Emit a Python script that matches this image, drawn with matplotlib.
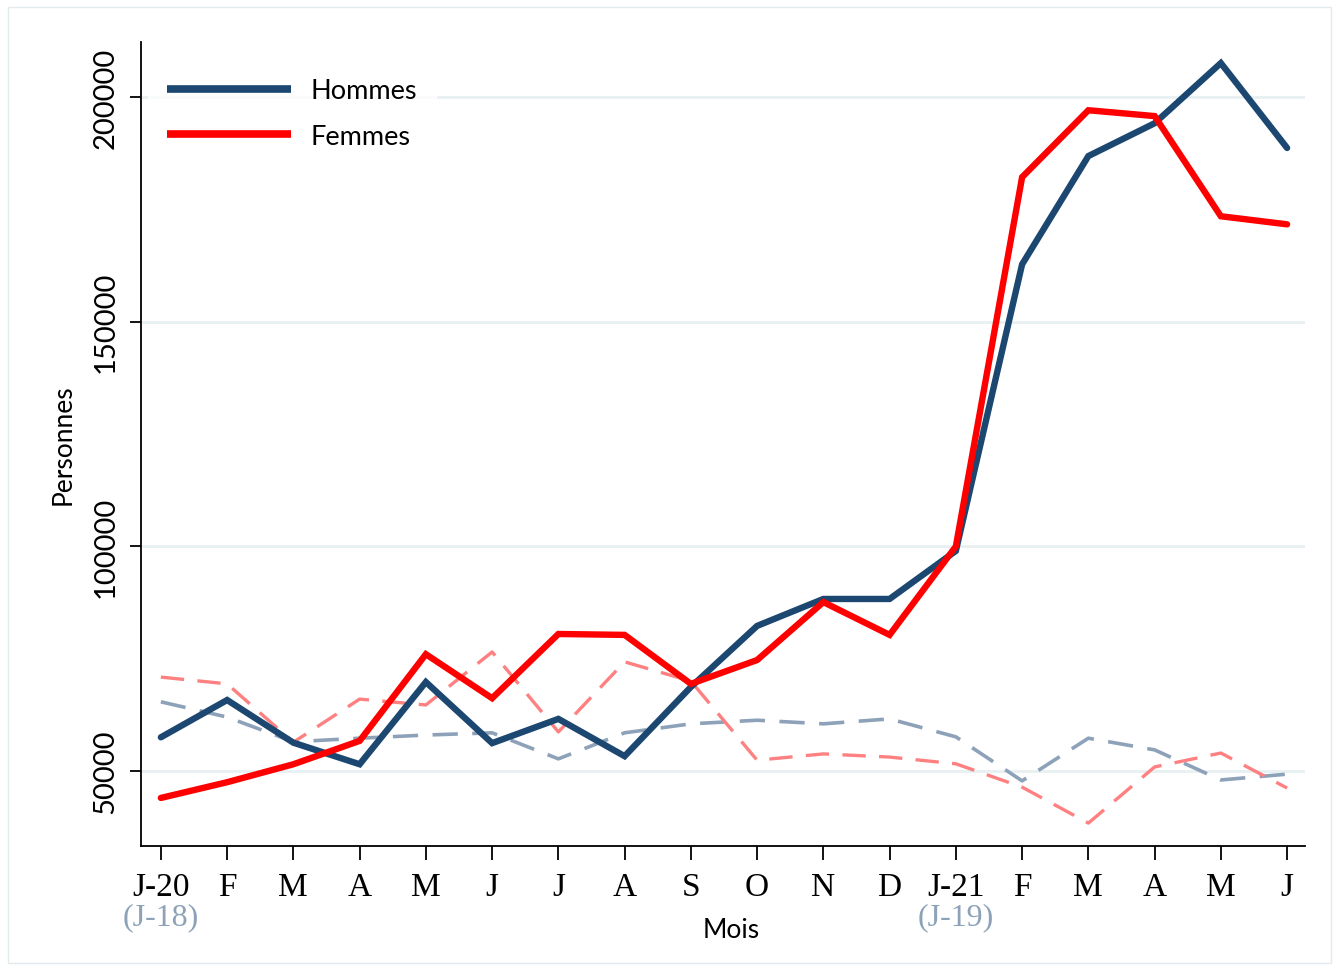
import matplotlib
matplotlib.use("Agg")
import matplotlib.pyplot as plt
from matplotlib.patches import Rectangle

# mois (janv. 2020 -> juin 2021)
mois = ["J-20", "F", "M", "A", "M", "J", "J", "A", "S", "O", "N", "D",
        "J-21", "F", "M", "A", "M", "J"]
rappel = {0: "(J-18)", 12: "(J-19)"}

hommes = [57500, 65800, 56300, 51500, 69800, 56200, 61600, 53300, 68700,
          82300, 88300, 88300, 99000, 162800, 186900, 194200, 207600, 188700]
femmes = [44000, 47500, 51500, 56700, 76000, 66200, 80500, 80300, 69400,
          74700, 87600, 80300, 100000, 182200, 197100, 195800, 173500, 171700]
# même période deux ans plus tôt (2018-2019)
hommes_n2 = [65400, 62000, 56500, 57300, 58000, 58500, 52700, 58500, 60500,
             61300, 60500, 61600, 57600, 47800, 57300, 54700, 48000, 49300]
femmes_n2 = [70900, 69400, 56400, 66000, 64700, 76500, 58700, 74300, 70000,
             52400, 53800, 53100, 51600, 46400, 38400, 50900, 54000, 46200]

navy = "#1b4770"
rouge = "#ff0000"
gris = "#8da2b8"
rose = "#ff8080"

fig = plt.figure(figsize=(13.39, 9.70), dpi=100)
ax = fig.add_axes([0.1053, 0.1268, 0.8693, 0.8289])
fig.patches.append(Rectangle((0.006, 0.006), 0.988, 0.986, transform=fig.transFigure,
                             fill=False, edgecolor="#e3eaed", lw=1))

x = list(range(len(mois)))
ax.plot(x, hommes_n2, color=gris, lw=2.6, ls=(0, (7, 4)), zorder=2)
ax.plot(x, femmes_n2, color=rose, lw=2.4, ls=(0, (7, 4)), zorder=2)
ax.plot(x, hommes, color=navy, lw=4.6, solid_capstyle="round",
        solid_joinstyle="miter", label="Hommes", zorder=3)
ax.plot(x, femmes, color=rouge, lw=4.6, solid_capstyle="round",
        solid_joinstyle="miter", label="Femmes", zorder=3)

ax.set_xlim(-0.30, 17.27)
ax.set_ylim(33300, 212300)
ax.set_yticks([50000, 100000, 150000, 200000])
ax.set_yticklabels(["50000", "100000", "150000", "200000"], rotation=90,
                   va="center", fontsize=21, family="Lato")
ax.set_xticks(x)
ax.set_xticklabels(mois, fontsize=24, family="Liberation Serif")
ax.tick_params(axis="x", length=10, width=1.3, pad=8)
ax.tick_params(axis="y", length=8, width=1.3, pad=8)
ax.grid(axis="y", color="#e8f0f2", lw=2, zorder=0)
ax.set_axisbelow(True)

for s in ["top", "right"]:
    ax.spines[s].set_visible(False)
for s in ["left", "bottom"]:
    ax.spines[s].set_linewidth(1.3)

for i, t in rappel.items():
    ax.text(i, -0.088, t, transform=ax.get_xaxis_transform(), ha="center",
            va="center", fontsize=23, color=gris, family="Liberation Serif")

ax.set_xlabel("Mois", fontsize=19, family="Lato")
ax.xaxis.set_label_coords(0.507, -0.088, transform=ax.transAxes)
ax.xaxis.label.set_va("top")
ax.set_ylabel("Personnes", fontsize=19, family="Lato", labelpad=12)

leg = ax.legend(loc="upper left", bbox_to_anchor=(-0.006, 0.995),
                handlelength=4.6, handletextpad=0.7, labelspacing=0.75,
                frameon=True, fancybox=False, borderpad=0.7,
                prop={"family": "Lato", "size": 19.5})
leg.get_frame().set_facecolor("white")
leg.get_frame().set_edgecolor("white")
for line in leg.get_lines():
    line.set_linewidth(5.5)
    line.set_solid_capstyle("butt")

fig.savefig("out.png", dpi=100)
